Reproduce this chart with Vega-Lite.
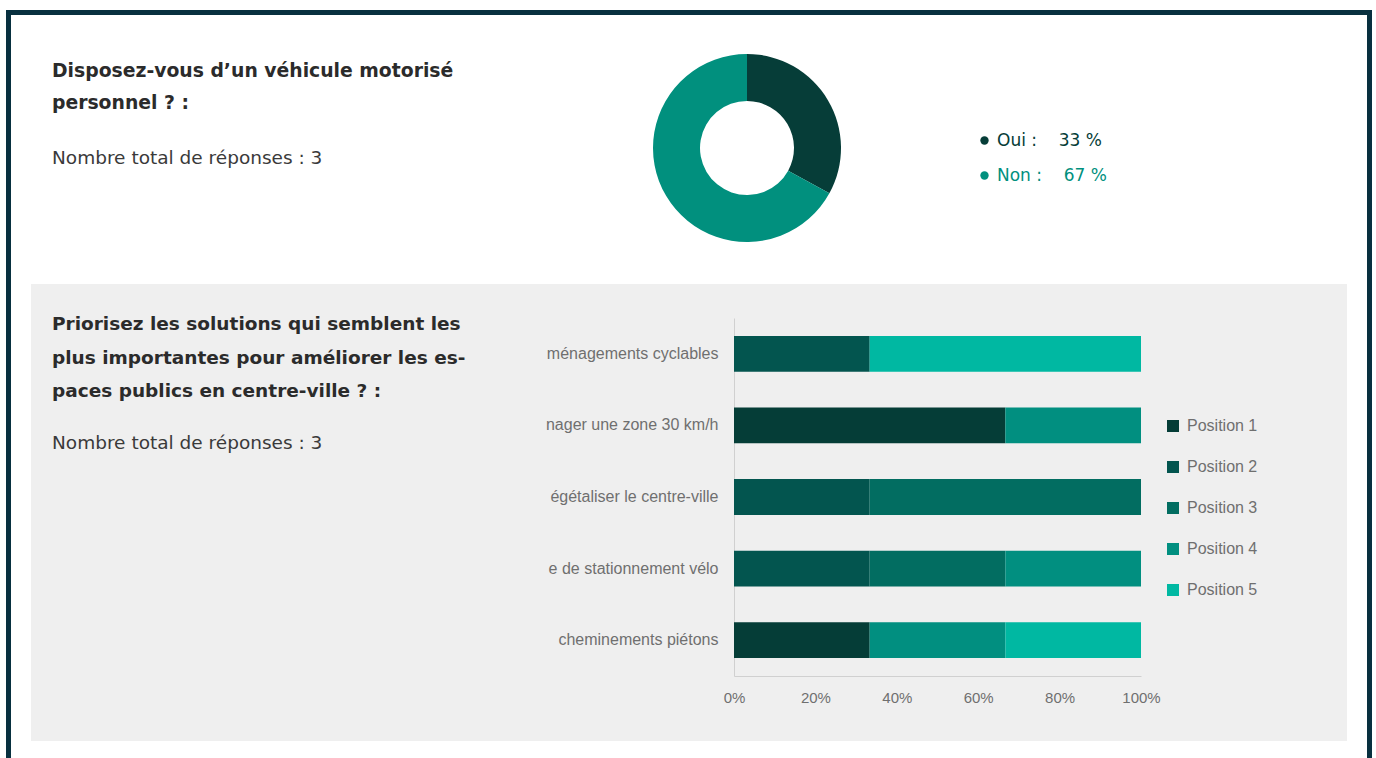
{
  "$schema": "https://vega.github.io/schema/vega-lite/v6.json",
  "background": "white",
  "padding": {"left": 6, "top": 10, "right": 0, "bottom": 0},
  "autosize": {"type": "pad"},
  "spacing": 0,
  "resolve": {"scale": {"color": "independent"}, "legend": {"color": "independent"}},
  "config": {"view": {"stroke": null}, "font": "DejaVu Sans"},
  "vconcat": [
    {
      "data": {"values": []},
      "mark": "rect",
      "width": 1366,
      "height": 5,
      "view": {"fill": "#08303f", "stroke": null}
    },
    {
      "spacing": 20,
      "resolve": {"scale": {"color": "independent"}, "legend": {"color": "independent"}},
      "hconcat": [
        {
          "data": {"values": []},
          "mark": "rect",
          "width": 5,
          "height": 743,
          "view": {"fill": "#08303f", "stroke": null}
        },
        {
          "spacing": 3,
          "resolve": {"scale": {"color": "independent"}, "legend": {"color": "independent"}},
          "vconcat": [
            {
              "spacing": 0,
              "resolve": {"scale": {"color": "independent"}, "legend": {"color": "independent"}},
              "hconcat": [
                {
                  "data": {"values": []},
                  "mark": "text",
                  "width": 520,
                  "height": 266,
                  "title": {
                    "text": ["Disposez-vous d’un véhicule motorisé", "personnel ? :"],
                    "subtitle": "Nombre total de réponses : 3",
                    "anchor": "start",
                    "frame": "group",
                    "orient": "top",
                    "offset": -152,
                    "dx": 21,
                    "font": "DejaVu Sans",
                    "fontSize": 18.8,
                    "fontWeight": "bold",
                    "color": "#2b2b2b",
                    "lineHeight": 32,
                    "subtitleFont": "DejaVu Sans",
                    "subtitleFontSize": 18.5,
                    "subtitleFontWeight": "normal",
                    "subtitleColor": "#3a3a3a",
                    "subtitlePadding": 36
                  }
                },
                {
                  "width": 392,
                  "height": 266,
                  "data": {
                    "values": [
                      {"reponse": "Oui", "pct": 33, "legende": "Oui :\u00a0\u00a0\u00a0 33\u00a0%"},
                      {"reponse": "Non", "pct": 67, "legende": "Non :\u00a0\u00a0\u00a0 67\u00a0%"}
                    ]
                  },
                  "mark": {"type": "arc", "innerRadius": 47, "outerRadius": 94},
                  "encoding": {
                    "theta": {"field": "pct", "type": "quantitative", "stack": true},
                    "order": {"field": "pct", "type": "quantitative"},
                    "color": {
                      "field": "legende",
                      "type": "nominal",
                      "sort": ["Oui :\u00a0\u00a0\u00a0 33\u00a0%", "Non :\u00a0\u00a0\u00a0 67\u00a0%"],
                      "scale": {
                        "domain": ["Oui :\u00a0\u00a0\u00a0 33\u00a0%", "Non :\u00a0\u00a0\u00a0 67\u00a0%"],
                        "range": ["#063d38", "#01907e"]
                      },
                      "legend": {
                        "title": null,
                        "orient": "none",
                        "legendX": 425,
                        "legendY": 117,
                        "padding": 0,
                        "symbolType": "circle",
                        "symbolSize": 70,
                        "symbolStrokeWidth": 0,
                        "labelFont": "DejaVu Sans",
                        "labelFontSize": 17,
                        "labelOffset": 4,
                        "rowPadding": 17,
                        "labelLimit": 300,
                        "labelColor": {"expr": "indexof(datum.label, 'Oui') == 0 ? '#063d38' : '#01907e'"}
                      }
                    }
                  }
                }
              ]
            },
            {
              "width": 1316,
              "height": 457,
              "view": {"fill": "#efefef", "stroke": null},
              "title": {
                "text": ["Priorisez les solutions qui semblent les", "plus importantes pour améliorer les es-", "paces publics en centre-ville ? :"],
                "subtitle": "Nombre total de réponses : 3",
                "anchor": "start",
                "frame": "group",
                "orient": "top",
                "offset": -168,
                "dx": 21,
                "font": "DejaVu Sans",
                "fontSize": 18.5,
                "fontWeight": "bold",
                "color": "#2b2b2b",
                "lineHeight": 33.5,
                "subtitleFont": "DejaVu Sans",
                "subtitleFontSize": 18.5,
                "subtitleFontWeight": "normal",
                "subtitleColor": "#3a3a3a",
                "subtitlePadding": 33
              },
              "data": {
                "values": [
                  {"solution": "ménagements cyclables", "position": "Position 2", "votes": 1},
                  {"solution": "ménagements cyclables", "position": "Position 5", "votes": 2},
                  {"solution": "nager une zone 30 km/h", "position": "Position 1", "votes": 2},
                  {"solution": "nager une zone 30 km/h", "position": "Position 4", "votes": 1},
                  {"solution": "égétaliser le centre-ville", "position": "Position 2", "votes": 1},
                  {"solution": "égétaliser le centre-ville", "position": "Position 3", "votes": 2},
                  {"solution": "e de stationnement vélo", "position": "Position 2", "votes": 1},
                  {"solution": "e de stationnement vélo", "position": "Position 3", "votes": 1},
                  {"solution": "e de stationnement vélo", "position": "Position 4", "votes": 1},
                  {"solution": "cheminements piétons", "position": "Position 1", "votes": 1},
                  {"solution": "cheminements piétons", "position": "Position 4", "votes": 1},
                  {"solution": "cheminements piétons", "position": "Position 5", "votes": 1}
                ]
              },
              "mark": {"type": "bar"},
              "encoding": {
                "y": {
                  "field": "solution",
                  "type": "nominal",
                  "sort": ["ménagements cyclables", "nager une zone 30 km/h", "égétaliser le centre-ville", "e de stationnement vélo", "cheminements piétons"],
                  "scale": {"range": [34, 392], "paddingInner": 0.5, "paddingOuter": 0.25},
                  "axis": {
                    "title": null,
                    "orient": "left",
                    "offset": -703,
                    "ticks": false,
                    "grid": false,
                    "domainColor": "#d0d0d0",
                    "labelPadding": 16,
                    "labelFont": "Liberation Sans",
                    "labelFontSize": 16,
                    "labelColor": "#6f6f6f",
                    "labelLimit": 300
                  }
                },
                "x": {
                  "field": "votes",
                  "type": "quantitative",
                  "stack": "normalize",
                  "scale": {"range": [703, 1110]},
                  "axis": {
                    "title": null,
                    "orient": "bottom",
                    "offset": -65,
                    "format": ".0%",
                    "values": [0, 0.2, 0.4, 0.6, 0.8, 1],
                    "ticks": false,
                    "grid": false,
                    "domainColor": "#d0d0d0",
                    "labelFlush": false,
                    "labelPadding": 14,
                    "labelFont": "Liberation Sans",
                    "labelFontSize": 15,
                    "labelColor": "#6f6f6f"
                  }
                },
                "color": {
                  "field": "position",
                  "type": "nominal",
                  "scale": {
                    "domain": ["Position 1", "Position 2", "Position 3", "Position 4", "Position 5"],
                    "range": ["#053d37", "#03554f", "#026d61", "#018f80", "#00b8a2"]
                  },
                  "legend": {
                    "title": null,
                    "orient": "none",
                    "legendX": 1134,
                    "legendY": 134,
                    "padding": 0,
                    "symbolType": "square",
                    "symbolSize": 144,
                    "symbolStrokeWidth": 0,
                    "labelFont": "Liberation Sans",
                    "labelFontSize": 16,
                    "labelColor": "#6f6f6f",
                    "labelOffset": 6,
                    "rowPadding": 25
                  }
                }
              }
            }
          ]
        },
        {
          "data": {"values": []},
          "mark": "rect",
          "width": 5,
          "height": 743,
          "view": {"fill": "#08303f", "stroke": null}
        }
      ]
    }
  ]
}
